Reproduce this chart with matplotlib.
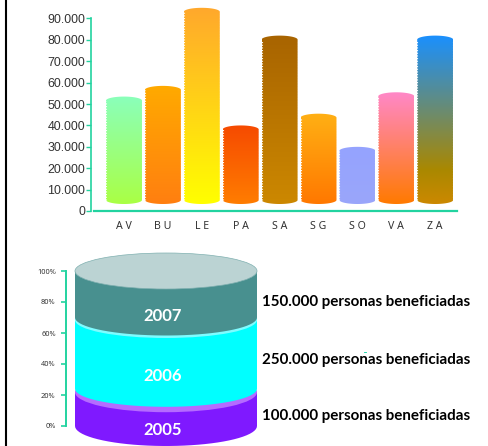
import numpy as np
import matplotlib
matplotlib.use("Agg")
import matplotlib.pyplot as plt
from matplotlib.colors import LinearSegmentedColormap
from matplotlib.lines import Line2D
from matplotlib.patches import PathPatch, Ellipse
from matplotlib.path import Path

categories = ["AV", "BU", "LE", "PA", "SA", "SG", "SO", "VA", "ZA"]
values = [53500, 58500, 95000, 40000, 82000, 45500, 30000, 55500, 82000]
tick_values = [0, 10000, 20000, 30000, 40000, 50000, 60000, 70000, 80000, 90000]
tick_labels = ["0", "10.000", "20.000", "30.000", "40.000", "50.000", "60.000", "70.000", "80.000", "90.000"]
bar_colors = [[(0, "#aaff44"), (1, "#8affbb")], [(0, "#ff7f10"), (1, "#ffaa00")],
              [(0, "#ffff00"), (1, "#ffa82c")], [(0, "#ff7d00"), (1, "#f64a00")],
              [(0, "#cc8800"), (1, "#a86400")], [(0, "#ff7800"), (1, "#ffb014")],
              [(0, "#9aa6fa"), (1, "#95a3ff")], [(0, "#ff7a00"), (1, "#ff88c8")],
              [(0, "#cc8800"), (0.2, "#aa8800"), (1, "#1a90ff")]]

years = ["2005", "2006", "2007"]
people = ["100.000", "250.000", "150.000"]
tier_bottom = [0, 24, 70]
tier_top = [22, 70, 100]
rim_centre = [21.8, 68.4]
side_colors = ["#7f19ff", "#00ffff", "#48908f"]
rim_colors = ["#b56bff", "#7ffcff", "#bbd3d3"]
pct_ticks = [0, 20, 40, 60, 80, 100]
GREEN = "#22d3a0"
FONT = "Noto Sans"
BOLD = "Lato"

W, H = 488, 446
fig = plt.figure(figsize=(W / 100, H / 100), dpi=100, facecolor="white")


def axes_px(l, r, top, bottom):
    return fig.add_axes([l / W, 1 - bottom / H, (r - l) / W, (bottom - top) / H])


fig.add_artist(Line2D([5.5 / W, 5.5 / W], [0, 1], color="black", lw=1.5))
fig.add_artist(Line2D([364 / W, 366 / W], [1 - 352 / H, 1 - 352 / H], color="#00d0a0", lw=0.6))

# ---- top chart
ax = axes_px(91, 457, 3, 211)
px_val = 90000 / 192.5
hw = 18 / 38.9
eh = 4 * px_val
base = 11 * px_val
t = np.linspace(0, np.pi, 40)
for i, (v, cols) in enumerate(zip(values, bar_colors)):
    cap = v - eh
    xb = i + hw * np.cos(t + np.pi)
    yb = base + eh * np.sin(t + np.pi)
    xt = i + hw * np.cos(t)
    yt = cap + eh * np.sin(t)
    verts = np.r_[np.c_[xb, yb], np.c_[xt, yt], [[xb[0], yb[0]]]]
    cmap = LinearSegmentedColormap.from_list("g", cols, N=512)
    im = ax.imshow(np.linspace(0, 1, 256)[::-1, None], cmap=cmap, aspect="auto", zorder=2,
                   extent=[i - hw, i + hw, base - eh, v], interpolation="bilinear")
    patch = PathPatch(Path(verts), transform=ax.transData, fc="none", ec="none")
    ax.add_patch(patch)
    im.set_clip_path(patch)
    for sx in (i - hw, i + hw):
        ax.plot([sx, sx], [base, cap], color="white", lw=0.8, ls=(0, (1, 1.4)), zorder=3)
ax.set_xlim(-33 / 38.9, 333 / 38.9)
ax.set_ylim(0, 208 * px_val)
ax.patch.set_visible(False)

for s in ("top", "right"):
    ax.spines[s].set_visible(False)
ax.spines["left"].set_color(GREEN)
ax.spines["left"].set_linewidth(1.2)
ax.spines["left"].set_bounds(0, 90000)
ax.spines["bottom"].set_color(GREEN)
ax.spines["bottom"].set_linewidth(1.6)
ax.spines["bottom"].set_bounds(-30 / 38.9, 333 / 38.9)
ax.set_yticks(tick_values, tick_labels, family="Liberation Sans", fontsize=8.9, color="#333333")
ax.tick_params(axis="y", color=GREEN, width=1.0, length=3.4, pad=1)
ax.set_xticks(range(len(categories)), [" ".join(c) for c in categories],
              family=FONT, fontsize=7.6, color="#333333")
ax.tick_params(axis="x", length=0, pad=7)

# ---- bottom chart
bx = axes_px(66, 270, 250, 446)
pct = 155 / 100
bx.set_xlim(0, 204)
bx.set_ylim(-20 / pct, 176 / pct)
bx.patch.set_visible(False)
cx, hw2 = 100, 91
half = [20 / pct, 18 / pct, 18 / pct]
label_y = [-2.5, 32, 71]
people_y = [6.5, 42.6, 80]
for k in range(3):
    lo, hi, h = tier_bottom[k], tier_top[k], half[k]
    xx = cx + hw2 * np.cos(t + np.pi)
    yy = lo + h * np.sin(t + np.pi)
    poly = np.r_[np.c_[xx, yy], [[cx + hw2, hi], [cx - hw2, hi]]]
    bx.add_patch(plt.Polygon(poly, fc=side_colors[k], ec="none", zorder=2 + 2 * k))
    if k < 2:
        bx.add_patch(Ellipse((cx, rim_centre[k]), 2 * hw2, 2 * h, fc=rim_colors[k],
                             ec="none", zorder=3 + 2 * k))
    else:
        bx.add_patch(Ellipse((cx, hi), 2 * hw2, 2 * h, fc=rim_colors[k], ec="#7fb0b0", lw=0.5,
                             zorder=3 + 2 * k))
    bx.text(97, label_y[k], years[k], color="white", family=BOLD, weight="bold",
            fontsize=12, ha="center", va="center", zorder=10)
    bx.text(196, people_y[k], people[k] + " personas beneficiadas", color="black", clip_on=False,
            family=BOLD, weight="bold", fontsize=10.9, ha="left", va="center", zorder=10)

for s in ("top", "right", "bottom"):
    bx.spines[s].set_visible(False)
bx.spines["left"].set_color(GREEN)
bx.spines["left"].set_linewidth(1.4)
bx.spines["left"].set_bounds(0, 100)
bx.set_xticks([])
bx.set_yticks(pct_ticks, [f"{p}%" for p in pct_ticks], family=FONT, fontsize=5.3, color="#333333")
bx.tick_params(axis="y", color=GREEN, width=1.2, length=3.4, pad=4)

fig.savefig("out.png", dpi=100)
